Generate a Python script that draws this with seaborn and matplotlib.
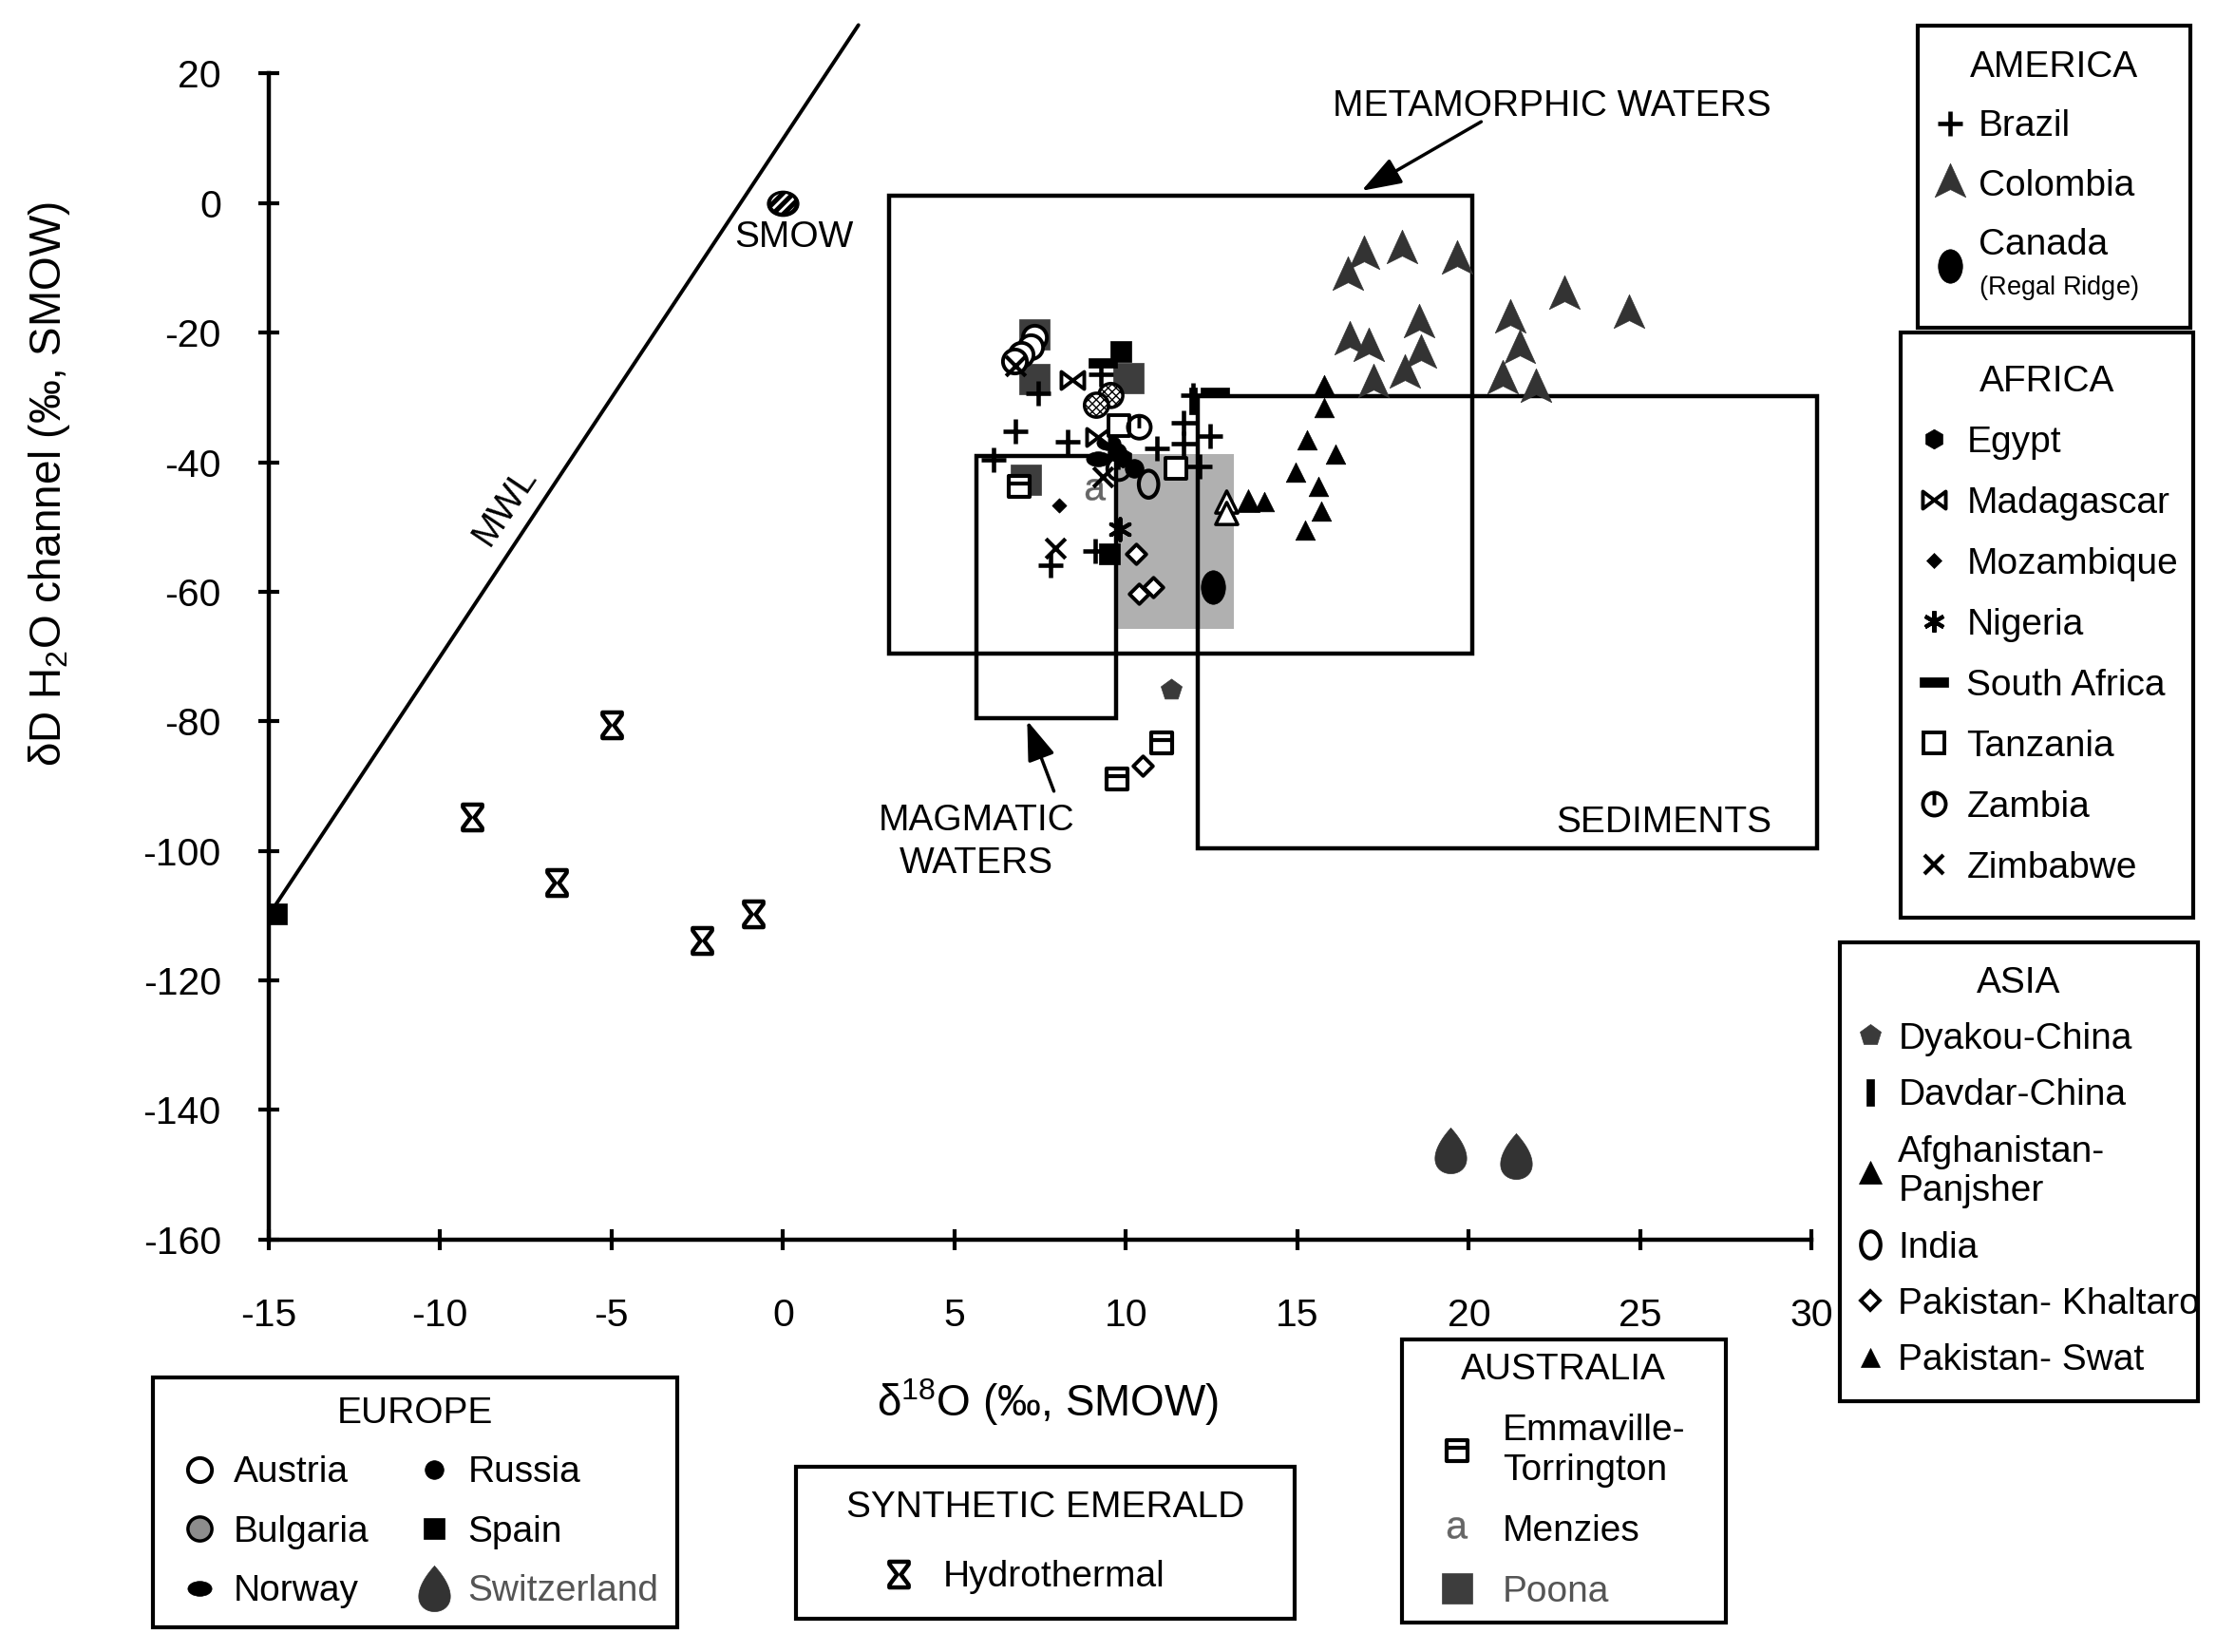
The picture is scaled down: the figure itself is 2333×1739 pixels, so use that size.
import numpy as np
import seaborn as sns
import matplotlib.pyplot as plt
from matplotlib.path import Path
from matplotlib.lines import Line2D
from matplotlib.patches import Rectangle

sns.set_style('ticks', {'axes.edgecolor': 'black', 'text.color': 'black',
                        'xtick.color': 'black', 'ytick.color': 'black',
                        'axes.labelcolor': 'black'})
plt.rcParams['font.family'] = ['Liberation Sans', 'DejaVu Sans']
plt.rcParams['mathtext.fontset'] = 'custom'
plt.rcParams['mathtext.rm'] = 'Liberation Sans'
plt.rcParams['mathtext.it'] = 'Liberation Sans:italic'
plt.rcParams['axes.unicode_minus'] = False

# ---- values: d18O (x), dD (y) ----
brazil_x = [7.44, 6.79, 8.29, 6.15, 10.89, 11.68, 11.68, 12.46, 11.95, 12.15, 7.79, 9.10, 9.28]
brazil_y = [-29.3, -35.3, -36.9, -39.7, -37.8, -33.9, -37.1, -35.9, -29.7, -40.7, -55.9, -53.7, -26.5]
colombia_x = [16.93, 18.04, 19.65, 16.47, 18.54, 16.52, 17.07, 18.59, 18.13, 17.21,
              22.78, 24.67, 21.22, 21.49, 20.99, 21.95]
colombia_y = [-8.0, -7.0, -8.7, -11.2, -18.5, -21.2, -22.2, -23.2, -26.3, -27.8,
              -14.1, -17.0, -17.8, -22.4, -27.1, -28.5]
canada_x, canada_y = [12.55], [-59.3]

egypt_x, egypt_y = [9.9], [-39.3]
madagascar_x, madagascar_y = [8.45, 9.19], [-27.3, -36.1]
mozambique_x, mozambique_y = [8.04], [-46.6]
nigeria_x, nigeria_y = [9.83], [-50.3]
safrica_x, safrica_y = [9.33, 12.6], [-24.6, -29.2]
tanzania_x, tanzania_y = [9.79, 11.45], [-34.4, -41.0]
zambia_x, zambia_y = [10.39, 9.79], [-34.6, -41.0]
zimbabwe_x, zimbabwe_y = [6.79, 9.33, 7.94], [-25.1, -42.2, -53.2]

dyakou_x, dyakou_y = [11.31], [-75.2]
davdar_x, davdar_y = [11.95], [-30.5]
afghan_x, afghan_y = [13.57], [-45.9]
afghan_open_x, afghan_open_y = [12.93, 12.93], [-46.1, -47.8]
india_x, india_y = [10.66], [-43.4]
khaltaro_x = [10.30, 10.39, 10.80, 10.48]
khaltaro_y = [-54.2, -60.3, -59.3, -86.8]
swat_x = [15.78, 15.78, 15.27, 16.10, 14.95, 15.60, 15.69, 15.23, 14.03]
swat_y = [-28.0, -31.5, -36.6, -38.8, -41.5, -43.7, -47.6, -50.5, -46.1]

emmaville_x, emmaville_y = [11.03, 9.74, 6.88], [-83.3, -88.9, -43.7]
menzies_x, menzies_y = [9.10], [-44.2]
poona_x, poona_y = [7.32, 7.32, 10.06, 7.07], [-20.2, -27.1, -27.0, -42.7]

austria_x, austria_y = [7.34, 7.22, 6.95, 6.76], [-20.7, -22.2, -23.4, -24.4]
bulgaria_x, bulgaria_y = [9.56, 9.14], [-29.7, -31.2]
norway_x, norway_y = [9.50, 9.19], [-37.0, -39.5]
russia_x, russia_y = [10.25, 9.75], [-41.0, -38.5]
spain_x, spain_y = [9.84, 9.51, -14.77], [-22.9, -54.2, -109.7]
swiss_x, swiss_y = [19.47, 21.38], [-146.3, -147.1]

hydro_x = [-5.0, -9.07, -6.59, -2.37, -0.88]
hydro_y = [-80.6, -94.8, -104.9, -113.9, -109.8]
smow_x, smow_y = [0.0], [0.0]

mwl_x, mwl_y = [-15.0, 2.2], [-110.0, 27.5]

# reference fields: metamorphic, magmatic, sediments
field_x0 = [3.1, 5.65, 12.1]
field_x1 = [20.1, 9.7, 30.15]
field_y0 = [-69.6, -79.5, -99.6]
field_y1 = [1.2, -39.1, -29.8]
gray_x0, gray_x1, gray_y0, gray_y1 = 9.7, 13.15, -65.7, -38.8


# ---- marker shapes ----
def closed(pts):
    pts = [tuple(p) for p in pts]
    return Path(pts + [pts[0]], [Path.MOVETO] + [Path.LINETO] * (len(pts) - 1) + [Path.CLOSEPOLY])


circ = Path.circle()
m_vell = Path(circ.vertices * [0.72, 1.0], circ.codes)
m_hell = Path(circ.vertices * [1.0, 0.62], circ.codes)
m_smow = Path(circ.vertices * [1.0, 0.8], circ.codes)
m_colombia = closed([(0, 1), (0.8, -0.75), (0, -0.35), (-0.8, -0.75)])
tt = np.linspace(0, 2 * np.pi, 60, endpoint=False)
m_drop = closed(np.column_stack([0.9 * np.sin(tt) * np.sin(tt / 2), np.cos(tt)]))
m_hour = closed([(-0.75, 1), (0.75, 1), (0.75, 0.8), (0.15, 0), (0.75, -0.8), (0.75, -1),
                 (-0.75, -1), (-0.75, -0.8), (-0.15, 0), (-0.75, 0.8)])
m_bowtie = closed([(-1, 0.75), (0, 0), (1, 0.75), (1, -0.75), (0, 0), (-1, -0.75)])
m_hbar = closed([(-1, -0.35), (1, -0.35), (1, 0.35), (-1, 0.35)])
m_vbar = closed([(-0.3, -1), (0.3, -1), (0.3, 1), (-0.3, 1)])
m_emma = Path.make_compound_path(closed([(-1, -1), (1, -1), (1, 1), (-1, 1)]),
                                 Path([(-1, 0.3), (1, 0.3)]))
m_zambia = Path.make_compound_path(circ, Path([(0, 1), (0, -0.1)]))

S = {
    'Brazil': dict(marker='+', s=340, fc='black', ec='black', lw=3.3, line=True),
    'Colombia': dict(marker=m_colombia, s=850, fc='#333333', ec='#333333', lw=0.5),
    'Canada': dict(marker=m_vell, s=650, fc='black', ec='black', lw=0.5),
    'Egypt': dict(marker='h', s=220, fc='black', ec='black', lw=0.5),
    'Madagascar': dict(marker=m_bowtie, s=300, fc='white', ec='black', lw=2.8),
    'Mozambique': dict(marker='D', s=60, fc='black', ec='black', lw=0.5),
    'Nigeria': dict(marker=(6, 2, 0), s=260, fc='black', ec='black', lw=3.0, line=True),
    'South Africa': dict(marker=m_hbar, s=480, fc='black', ec='black', lw=0.5),
    'Tanzania': dict(marker='s', s=230, fc='white', ec='black', lw=2.8),
    'Zambia': dict(marker=m_zambia, s=300, fc='none', ec='black', lw=2.8),
    'Zimbabwe': dict(marker='x', s=220, fc='black', ec='black', lw=3.0, line=True),
    'Dyakou-China': dict(marker='p', s=280, fc='#3a3a3a', ec='#3a3a3a', lw=0.5),
    'Davdar-China': dict(marker=m_vbar, s=420, fc='black', ec='black', lw=0.5),
    'Afghanistan-Panjsher': dict(marker='^', s=300, fc='black', ec='black', lw=0.5),
    'AfghanOpen': dict(marker='^', s=280, fc='white', ec='black', lw=2.5),
    'India': dict(marker=m_vell, s=420, fc='none', ec='black', lw=3.0),
    'Pakistan-Khaltaro': dict(marker='D', s=110, fc='white', ec='black', lw=2.8),
    'Pakistan-Swat': dict(marker='^', s=220, fc='black', ec='black', lw=0.5),
    'Emmaville-Torrington': dict(marker=m_emma, s=260, fc='white', ec='black', lw=3.0),
    'Menzies': dict(marker='$\\mathrm{a}$', s=260, fc='#666666', ec='#666666', lw=0.3),
    'Poona': dict(marker='s', s=520, fc='#3d3d3d', ec='#3d3d3d', lw=0.5),
    'Austria': dict(marker='o', s=330, fc='white', ec='black', lw=2.8),
    'Bulgaria': dict(marker='o', s=330, fc='white', ec='black', lw=2.5, hatch='xxxx'),
    'Norway': dict(marker=m_hell, s=330, fc='black', ec='black', lw=0.5),
    'Russia': dict(marker='o', s=200, fc='black', ec='black', lw=0.5),
    'Spain': dict(marker='s', s=240, fc='black', ec='black', lw=0.5),
    'Switzerland': dict(marker=m_drop, s=1200, fc='#333333', ec='#333333', lw=0.5),
    'Hydrothermal': dict(marker=m_hour, s=380, fc='white', ec='black', lw=3.2),
}

series = {
    'Poona': (poona_x, poona_y),
    'Brazil': (brazil_x, brazil_y),
    'Colombia': (colombia_x, colombia_y),
    'Canada': (canada_x, canada_y),
    'Egypt': (egypt_x, egypt_y),
    'Norway': (norway_x, norway_y),
    'Russia': (russia_x, russia_y),
    'Madagascar': (madagascar_x, madagascar_y),
    'Mozambique': (mozambique_x, mozambique_y),
    'Nigeria': (nigeria_x, nigeria_y),
    'South Africa': (safrica_x, safrica_y),
    'Davdar-China': (davdar_x, davdar_y),
    'Tanzania': (tanzania_x, tanzania_y),
    'Zambia': (zambia_x, zambia_y),
    'Dyakou-China': (dyakou_x, dyakou_y),
    'Afghanistan-Panjsher': (afghan_x, afghan_y),
    'AfghanOpen': (afghan_open_x, afghan_open_y),
    'India': (india_x, india_y),
    'Pakistan-Khaltaro': (khaltaro_x, khaltaro_y),
    'Pakistan-Swat': (swat_x, swat_y),
    'Emmaville-Torrington': (emmaville_x, emmaville_y),
    'Menzies': (menzies_x, menzies_y),
    'Austria': (austria_x, austria_y),
    'Bulgaria': (bulgaria_x, bulgaria_y),
    'Spain': (spain_x, spain_y),
    'Zimbabwe': (zimbabwe_x, zimbabwe_y),
    'Switzerland': (swiss_x, swiss_y),
    'Hydrothermal': (hydro_x, hydro_y),
}

fig = plt.figure(figsize=(23.33, 17.39), dpi=100)
ax = fig.add_axes([0.1212, 0.2498, 0.6964, 0.7370])
ax.set_xlim(-15, 30)
ax.set_ylim(-160, 28)

# fields
ax.add_patch(Rectangle((gray_x0, gray_y0), gray_x1 - gray_x0, gray_y1 - gray_y0,
                       facecolor='#b0b0b0', edgecolor='none', zorder=0.5))
for x0, x1, y0, y1 in zip(field_x0, field_x1, field_y0, field_y1):
    ax.add_patch(Rectangle((x0, y0), x1 - x0, y1 - y0, fill=False, edgecolor='black',
                           linewidth=3.2, zorder=1.5, clip_on=False))

sns.lineplot(x=mwl_x, y=mwl_y, color='black', linewidth=2.8, sort=False,
             estimator=None, ax=ax, zorder=2)

for name, (xs, ys) in series.items():
    st = S[name]
    kw = dict(marker=st['marker'], s=st['s'], linewidth=st['lw'], zorder=3,
              ax=ax, legend=False)
    if st.get('line'):
        sns.scatterplot(x=xs, y=ys, color=st['ec'], **kw)
    else:
        extra = {'hatch': st['hatch']} if 'hatch' in st else {}
        sns.scatterplot(x=xs, y=ys, color=st['ec'], facecolor=st['fc'],
                        edgecolor=st['ec'], **kw, **extra)

# SMOW: black disc with white hatching on top
sns.scatterplot(x=smow_x, y=smow_y, marker=m_smow, s=560, color='black',
                facecolor='black', edgecolor='black', linewidth=1, zorder=3,
                ax=ax, legend=False)
with plt.rc_context({'hatch.color': 'white', 'hatch.linewidth': 2.0}):
    sns.scatterplot(x=smow_x, y=smow_y, marker=m_smow, s=330, color='white',
                    facecolor='black', edgecolor='white', hatch='///',
                    linewidth=0, zorder=3.1, ax=ax, legend=False)

# axes styling
for side in ['top', 'right']:
    ax.spines[side].set_visible(False)
ax.spines['left'].set_bounds(-160, 20)
ax.spines['bottom'].set_bounds(-15, 30)
for side in ['left', 'bottom']:
    ax.spines[side].set_linewidth(3.2)
ax.set_xticks(np.arange(-15, 31, 5))
ax.set_yticks(np.arange(-160, 21, 20))
ax.tick_params(direction='inout', length=16, width=3, labelsize=29.5)
ax.tick_params(axis='x', pad=36)
ax.tick_params(axis='y', pad=28)

ax.set_xlabel('δ$^{18}$O (‰, SMOW)', fontsize=33, va='center', ha='center')
ax.xaxis.set_label_coords(0.505, -0.1335)
ax.set_ylabel('δD H$_2$O channel (‰, SMOW)', fontsize=33, va='center', ha='center')
ax.yaxis.set_label_coords(-0.142, 0.62)

# annotations
fs = 28
arrow = dict(arrowstyle='-|>,head_length=0.8,head_width=0.28', color='black', lw=2.5,
             mutation_scale=32, shrinkA=0, shrinkB=0)
ax.text(22.42, 14.97, 'METAMORPHIC WATERS', fontsize=fs, ha='center', va='center')
ax.annotate('', xy=(16.87, 1.9), xytext=(20.36, 12.57), annotation_clip=False,
            arrowprops=arrow)
ax.text(5.64, -98.7, 'MAGMATIC\nWATERS', fontsize=fs, ha='center', va='center',
        multialignment='center', linespacing=1.32)
ax.annotate('', xy=(7.12, -79.9), xytext=(7.9, -90.8), annotation_clip=False,
            arrowprops=arrow)
ax.text(25.7, -95.6, 'SEDIMENTS', fontsize=fs, ha='center', va='center')
ax.text(0.33, -5.3, 'SMOW', fontsize=fs, ha='center', va='center')
ax.text(-8.1, -46.8, 'MWL', fontsize=fs, ha='center', va='center', rotation=56)


# ---- region legends ----
def handle(name):
    st = S[name]
    fc = '#8c8c8c' if 'hatch' in st else st['fc']
    return Line2D([], [], ls='none', marker=st['marker'], markersize=np.sqrt(st['s']),
                  markerfacecolor=fc, markeredgecolor=st['ec'], markeredgewidth=st['lw'])


W, H = 1568.0, 1169.0


def box_legend(keys, labels, title, left, top, width, ncol=1, gray=(),
               linesp=1.2, **kw):
    hs = [handle(k) for k in keys]
    leg = fig.legend(hs, labels, title=title, loc='upper left',
                     bbox_to_anchor=(left / W, 1 - top / H - 0.05, width / W, 0.05),
                     mode='expand', ncol=ncol, fontsize=fs, title_fontsize=fs,
                     frameon=True, fancybox=False, edgecolor='black', framealpha=1,
                     borderaxespad=0, columnspacing=1.0, **kw)
    leg.get_frame().set_linewidth(3)
    for i, t in enumerate(leg.get_texts()):
        t.set_linespacing(linesp)
        if i in gray:
            t.set_color('#555555')
    return leg


box_legend(['Brazil', 'Colombia', 'Canada'],
           ['Brazil', 'Colombia', 'Canada\n$_{\\mathregular{(Regal\\ Ridge)}}$'],
           'AMERICA', 1357, 18, 193, borderpad=0.67, labelspacing=0.68,
           handlelength=0.43, handletextpad=0.55, linesp=1.0)
box_legend(['Egypt', 'Madagascar', 'Mozambique', 'Nigeria', 'South Africa',
            'Tanzania', 'Zambia', 'Zimbabwe'],
           ['Egypt', 'Madagascar', 'Mozambique', 'Nigeria', 'South Africa',
            'Tanzania', 'Zambia', 'Zimbabwe'],
           'AFRICA', 1345, 235, 207, borderpad=0.88, labelspacing=0.72,
           handlelength=0.05, handletextpad=0.85)
box_legend(['Dyakou-China', 'Davdar-China', 'Afghanistan-Panjsher', 'India',
            'Pakistan-Khaltaro', 'Pakistan-Swat'],
           ['Dyakou-China', 'Davdar-China', 'Afghanistan-\nPanjsher', 'India',
            'Pakistan- Khaltaro', 'Pakistan- Swat'],
           'ASIA', 1302, 667, 253, borderpad=0.63, labelspacing=0.6,
           handlelength=0.35, handletextpad=0.59)
box_legend(['Austria', 'Bulgaria', 'Norway', 'Russia', 'Spain', 'Switzerland'],
           ['Austria', 'Bulgaria', 'Norway', 'Russia', 'Spain', 'Switzerland'],
           'EUROPE', 108, 975, 371, ncol=2, gray=(5,), borderpad=0.5,
           labelspacing=0.68, handlelength=1.55, handletextpad=0.13)
box_legend(['Hydrothermal'], ['Hydrothermal'], 'SYNTHETIC EMERALD', 563, 1038, 353,
           borderpad=0.65, labelspacing=0.95, handlelength=4.29, handletextpad=-0.96)
box_legend(['Emmaville-Torrington', 'Menzies', 'Poona'],
           ['Emmaville-\nTorrington', 'Menzies', 'Poona'],
           'AUSTRALIA', 992, 948, 229, gray=(2,), borderpad=0.36, labelspacing=0.72,
           handlelength=2.27, handletextpad=0.09)

fig.savefig('out.png', dpi=100)
